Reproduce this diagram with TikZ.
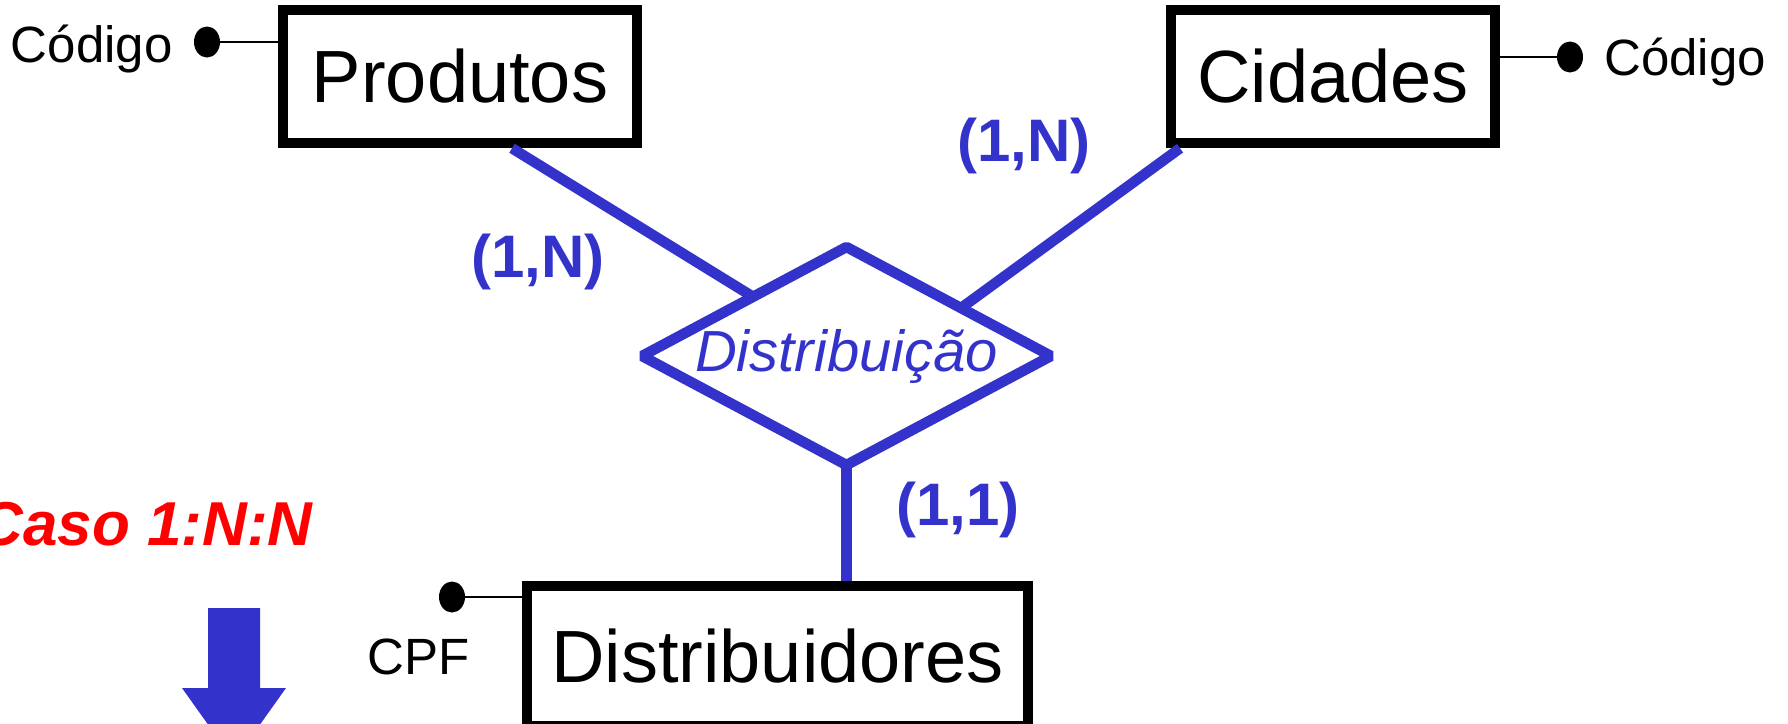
\documentclass[tikz,border=0pt]{standalone}
\usepackage{fontspec}
\setmainfont{Liberation Sans}
\usetikzlibrary{shapes.geometric,calc}
\definecolor{azul}{RGB}{51,51,204}

\begin{document}
\begin{tikzpicture}[x=0.5pt,y=-0.5pt,
  entidade/.style={draw,line width=5.25pt,inner sep=0pt,minimum height=66.5pt,font=\fontsize{37}{44}\selectfont},
  relac/.style={diamond,draw=azul,line width=5.25pt,line join=bevel,inner sep=0pt,outer sep=0pt,minimum width=204.5pt,minimum height=109pt,aspect=1.88,text=azul,font=\fontsize{29}{35}\selectfont\itshape},
  card/.style={text=azul,font=\fontsize{30}{36}\selectfont\bfseries},
  ligacao/.style={draw=azul,line width=5.25pt},
  chave/.style={ellipse,fill,inner sep=0pt,minimum width=13pt,minimum height=15.5pt},
  atrib/.style={inner sep=0pt,font=\fontsize{25.5}{30}\selectfont}]
\useasboundingbox (0,0) rectangle (1788,723);

% entidades e relacionamento
\node[entidade,minimum width=177pt] (prod) at (460,76.5) {Produtos};
\node[entidade,minimum width=162pt] (cid) at (1333,76.5) {Cidades};
\node[entidade,minimum width=250.5pt,minimum height=70pt] (dist) at (777.5,656) {Distribuidores};
\node[relac] (rel) at (846.5,356) {Distribuição};

\draw[ligacao] ([xshift=26pt]prod.south) -- ($(rel.north)!0.457!(rel.west)$);
\draw[ligacao] ([xshift=-76.5pt]cid.south) -- ($(rel.north)!0.56!(rel.east)$);
\draw[ligacao] (rel.south) -- (rel.south |- dist.north);

% cardinalidades
\node[card] (cp) at (538,262) {(1,N)};
\node[card] (cc) at (1024,146) {(1,N)};
\node[card] (cd) at (958,510) {(1,1)};

% atributos chave
\node[chave] (kp) at (207,42) {};
\draw[line width=1.3pt] (kp) -- (kp -| prod.west);
\node[atrib,anchor=base east] (ap) at (173,62) {Código};

\node[chave] (kc) at (1570,57) {};
\draw[line width=1.3pt] (kc) -- (kc -| cid.east);
\node[atrib,anchor=base west] (ac) at (1604,75) {Código};

\node[chave] (kd) at (452,597) {};
\draw[line width=1.3pt] (kd) -- (kd -| dist.west);
\node[atrib,anchor=base west] (ad) at (367,674) {CPF};

% caso e seta
\node[anchor=base east,inner sep=0pt,text=red,font=\fontsize{31}{37}\selectfont\bfseries\itshape] (caso) at (313,545) {Caso 1:N:N};
\fill[azul] (208,608) -- (260,608) -- (260,688) -- (286,688) -- (234,761) -- (182,688) -- (208,688) -- cycle;
\end{tikzpicture}
\end{document}
